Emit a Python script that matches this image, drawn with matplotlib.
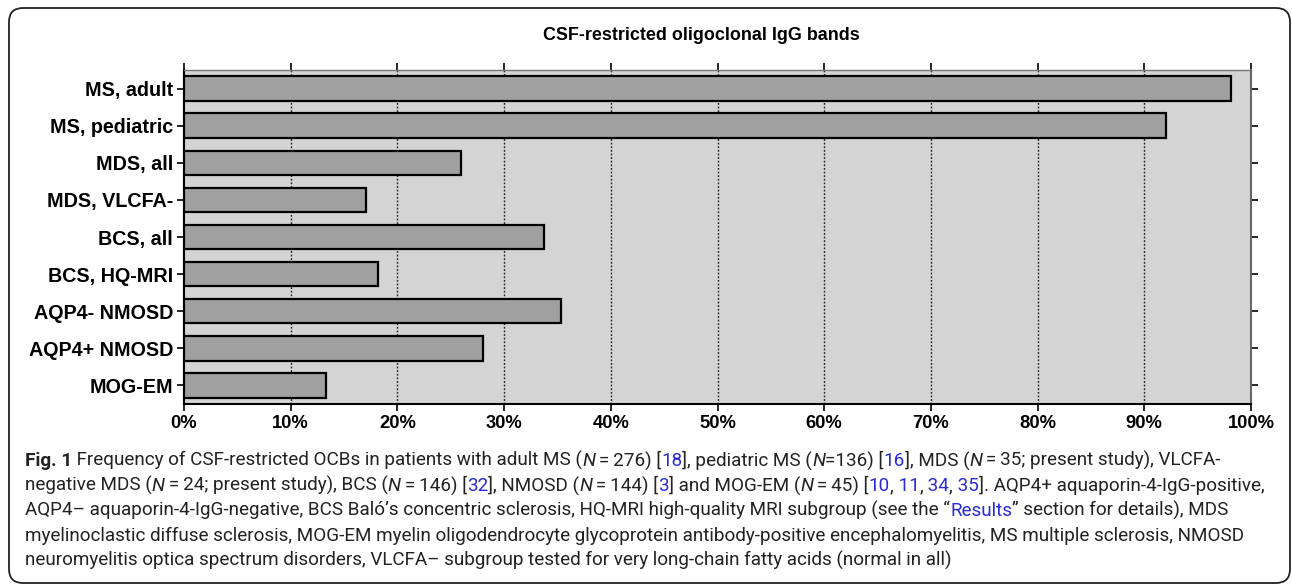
import matplotlib
matplotlib.use("Agg")
import matplotlib.pyplot as plt
from matplotlib.patches import FancyBboxPatch
from matplotlib.transforms import IdentityTransform

# Data
groups = ["MS, adult", "MS, pediatric", "MDS, all", "MDS, VLCFA-", "BCS, all",
          "BCS, HQ-MRI", "AQP4- NMOSD", "AQP4+ NMOSD", "MOG-EM"]
ocb_pct = [98.1, 92.0, 26.0, 17.1, 33.7, 18.2, 35.3, 28.0, 13.3]
x_ticks = [0, 10, 20, 30, 40, 50, 60, 70, 80, 90, 100]
x_tick_labels = ["0%", "10%", "20%", "30%", "40%", "50%", "60%", "70%", "80%", "90%", "100%"]
title = "CSF-restricted oligoclonal IgG bands"

# Caption lines: (text, style) with style in norm / bold / ital / link
TS = "\u2009"
cap_line1 = [("Fig. 1", "bold"),
             (" Frequency of CSF-restricted OCBs in patients with adult MS (", "norm"),
             ("N", "ital"), (TS + "=" + TS + "276) [", "norm"), ("18", "link"),
             ("], pediatric MS (", "norm"), ("N", "ital"), ("=136) [", "norm"),
             ("16", "link"), ("], MDS (", "norm"), ("N", "ital"),
             (TS + "=" + TS + "35; present study), VLCFA-", "norm")]
cap_line2 = [("negative MDS (", "norm"), ("N", "ital"),
             (TS + "=" + TS + "24; present study), BCS (", "norm"), ("N", "ital"),
             (TS + "=" + TS + "146) [", "norm"), ("32", "link"), ("], NMOSD (", "norm"),
             ("N", "ital"), (TS + "=" + TS + "144) [", "norm"), ("3", "link"),
             ("] and MOG-EM (", "norm"), ("N", "ital"), (TS + "=" + TS + "45) [", "norm"),
             ("10", "link"), (",", "norm"), (" 11", "link"), (",", "norm"),
             (" 34", "link"), (",", "norm"), (" 35", "link"),
             ("]. AQP4+ aquaporin-4-IgG-positive,", "norm")]
cap_line3 = [("AQP4\u2013 aquaporin-4-IgG-negative, BCS Bal\u00f3\u2019s concentric sclerosis, "
              "HQ-MRI high-quality MRI subgroup (see the \u201c", "norm"),
             ("Results", "link"), ("\u201d section for details), MDS", "norm")]
cap_line4 = [("myelinoclastic diffuse sclerosis, MOG-EM myelin oligodendrocyte glycoprotein "
              "antibody-positive encephalomyelitis, MS multiple sclerosis, NMOSD", "norm")]
cap_line5 = [("neuromyelitis optica spectrum disorders, VLCFA\u2013 subgroup tested for very "
              "long-chain fatty acids (normal in all)", "norm")]
caption = [cap_line1, cap_line2, cap_line3, cap_line4, cap_line5]

W, H = 1292, 586
plt.rcParams["font.family"] = ["Liberation Sans", "DejaVu Sans"]

fig = plt.figure(figsize=(W / 100, H / 100), dpi=100)
fig.patch.set_facecolor("white")

# Chart
ax = fig.add_axes([184 / W, 1 - 404 / H, (1251 - 184) / W, (404 - 70) / H])
ax.set_facecolor("#d4d4d4")
ypos = list(range(len(groups)))
ax.vlines(x_ticks[1:-1], -0.5, len(groups) - 0.5, colors="#222222",
          linestyles=(0, (1.3, 1.3)), linewidth=1.0, zorder=1)
ax.barh(ypos, ocb_pct, height=0.66, color="#a0a0a0", edgecolor="black",
        linewidth=1.6, zorder=3)
ax.set_xlim(0, 100)
ax.set_ylim(len(groups) - 0.5, -0.5)
ax.set_yticks(ypos)
ax.set_yticklabels(groups, fontsize=14.2, fontweight="bold")
ax.set_xticks(x_ticks)
ax.set_xticklabels(x_tick_labels, fontsize=13.2, fontweight="bold")
ax.tick_params(axis="x", top=True, direction="out", length=5, width=1.2, pad=3)
ax.tick_params(axis="y", right=True, direction="out", length=5, width=1.2, pad=3)
for tl in ax.yaxis.get_ticklines()[1::2]:
    tl.set_color("#555555")
ax.spines["left"].set_linewidth(1.5)
ax.spines["bottom"].set_linewidth(1.5)
ax.spines["top"].set_linewidth(1.0)
ax.spines["top"].set_color("#777777")
ax.spines["right"].set_linewidth(1.5)
ax.spines["right"].set_color("#666666")

fig.text(701 / W, 1 - 35 / H, title, ha="center", va="center",
         fontsize=12.9, fontweight="bold")

# Rounded frame around figure + caption
frame = FancyBboxPatch((9, 3), 1281, 575, boxstyle="round,pad=0,rounding_size=14",
                       transform=IdentityTransform(), fill=False,
                       edgecolor="#222222", linewidth=1.3)
fig.add_artist(frame)

# Caption
cap_ax = fig.add_axes([0, 0, 1, 1])
cap_ax.axis("off")
cap_font = ["Roboto", "DejaVu Sans"]
cap_color = "#222222"
link_color = "#2a2ad8"
base_size = 12.0
x0 = 25 / W
baselines = [466, 491, 516, 541, 566]

pieces = []
lines = []
for segs, b in zip(caption, baselines):
    prev = None
    line = []
    for text, style in segs:
        kw = dict(fontsize=base_size, family=cap_font, color=cap_color)
        if style == "bold":
            kw["fontweight"] = "bold"
        elif style == "ital":
            kw["fontstyle"] = "italic"
        elif style == "link":
            kw["color"] = link_color
        if prev is None:
            t = cap_ax.text(x0, 1 - b / H, text, transform=fig.transFigure,
                            ha="left", va="baseline", **kw)
        else:
            t = cap_ax.annotate(text, xy=(1, 0), xycoords=prev,
                                ha="left", va="bottom", **kw)
        line.append(t)
        prev = t
    lines.append(line)
    pieces.extend(line)

# scale caption so the first line spans the same width as in the original
fig.canvas.draw()
r = fig.canvas.get_renderer()
end1 = lines[0][-1].get_window_extent(r).x1
fac = (1218 - 25) / (end1 - 25)
for t in pieces:
    t.set_fontsize(base_size * fac)

fig.savefig("out.png", dpi=100)
